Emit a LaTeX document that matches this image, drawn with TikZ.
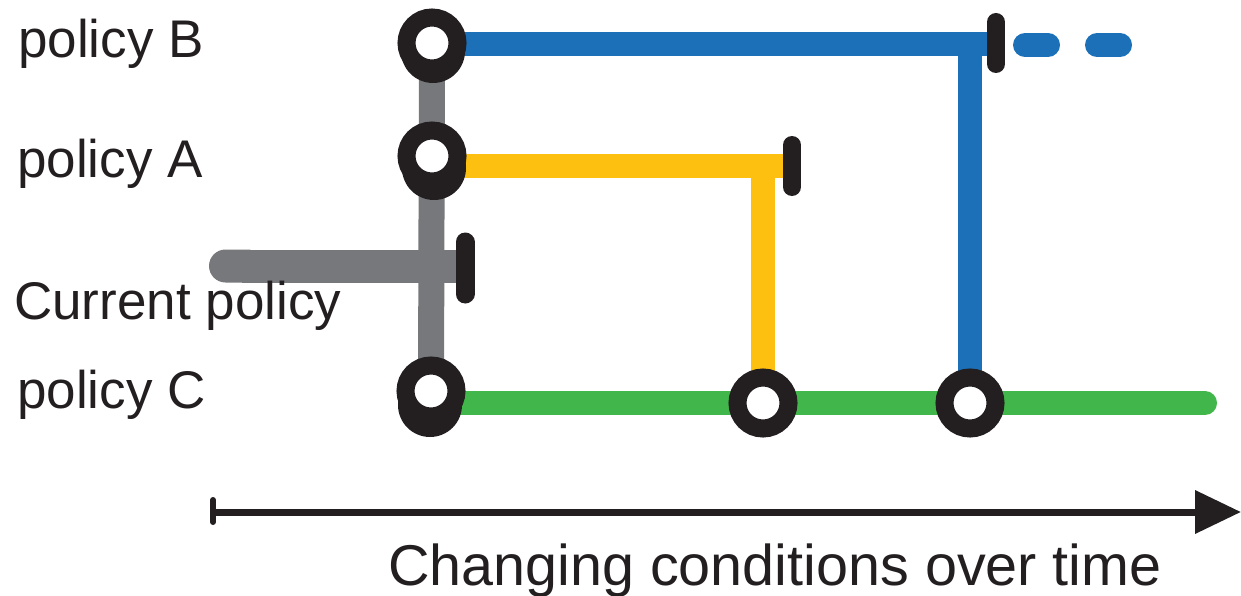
\documentclass[tikz,border=0pt]{standalone}
\usepackage{fontspec}
\setmainfont{Liberation Sans}
\usetikzlibrary{arrows.meta}
\definecolor{pblue}{RGB}{27,112,184}
\definecolor{pyellow}{RGB}{253,192,16}
\definecolor{pgreen}{RGB}{65,182,74}
\definecolor{pgrey}{RGB}{119,120,123}
\definecolor{pblack}{RGB}{35,31,32}
\pgfdeclarelayer{background}
\pgfsetlayers{background,main}
\begin{document}
\begin{tikzpicture}[x=1pt,y=-1pt,
  station/.style={circle, draw=pblack, fill=white, line width=18pt, minimum size=51pt, inner sep=0pt},
  blob/.style={circle, fill=pblack, minimum size=64pt, inner sep=0pt},
  stopbar/.style={draw=pblack, line width=18pt, line cap=round},
  route/.style={line width=24pt},
  lbl/.style={anchor=base west, font=\fontsize{53}{60}\selectfont, text=pblack, inner sep=0pt},
]
\useasboundingbox (0,0) rectangle (1241,596);

% coordinates for line ends / corners
\coordinate (bT) at (996,44);
\coordinate (bC) at (970,44);
\coordinate (bD1) at (1025,45);
\coordinate (bD2) at (1121,45);
\coordinate (aT) at (792,166);
\coordinate (aC) at (763,166);
\coordinate (gL) at (209,266);
\coordinate (gT) at (465,266);
\coordinate (cE) at (1205,403);
\coordinate (t0) at (213,512);
\coordinate (t1) at (1241,512);
\coordinate (tk1) at (213,500);
\coordinate (tk2) at (213,522);

% stations (blobs behind the left ones)
\node[blob] (B0s) at (433,51) {};
\node[station] (B0) at (432,43) {};
\node[blob] (A0s) at (434,168) {};
\node[station] (A0) at (432,156) {};
\node[blob] (C0s) at (430,405) {};
\node[station] (C0) at (431,391) {};
\node[station] (C2) at (763,403) {};
\node[station] (C3) at (970,403) {};

% routes
\begin{pgfonlayer}{background}
  \draw[pgrey, line width=26pt] (B0.center) -- (C0.center);
  \draw[pgrey, line width=33pt, {Round Cap[]}-] (gL) -- (gT);
  \draw[route, pblue] (B0.center |- bT) -- (bT);
  \draw[route, pblue] (bC) -- (C3.center);
  \draw[route, pblue, line cap=round, dash pattern=on 23pt off 49pt] (bD1) -- (bD2);
  \draw[route, pyellow] (A0.center |- aT) -- (aT);
  \draw[route, pyellow] (aC) -- (C2.center);
  \draw[route, pgreen, line cap=round] (C0.center |- cE) -- (cE);
\end{pgfonlayer}

% stop bars
\draw[stopbar] ([yshift=-20pt]bT) -- ([yshift=22pt]bT);
\draw[stopbar] ([yshift=-21pt]aT) -- ([yshift=21pt]aT);
\draw[stopbar, line width=19pt] ([yshift=-28pt]gT) -- ([yshift=24pt]gT);

% time axis
\draw[pblack, line width=7pt, -{Triangle[length=46pt,width=42pt]}] (t0) -- (t1);
\draw[pblack, line width=6pt, line cap=round] (tk1) -- (tk2);

% labels
\node[lbl] (lB) at (18,58) {policy B};
\node[lbl] (lA) at (17,178) {policy A};
\node[lbl] (lCur) at (14,319) {Current policy};
\node[lbl] (lC) at (17,408) {policy C};
\node[lbl, font=\fontsize{57.5}{64}\selectfont] (lX) at (388,585) {Changing conditions over time};
\end{tikzpicture}
\end{document}
